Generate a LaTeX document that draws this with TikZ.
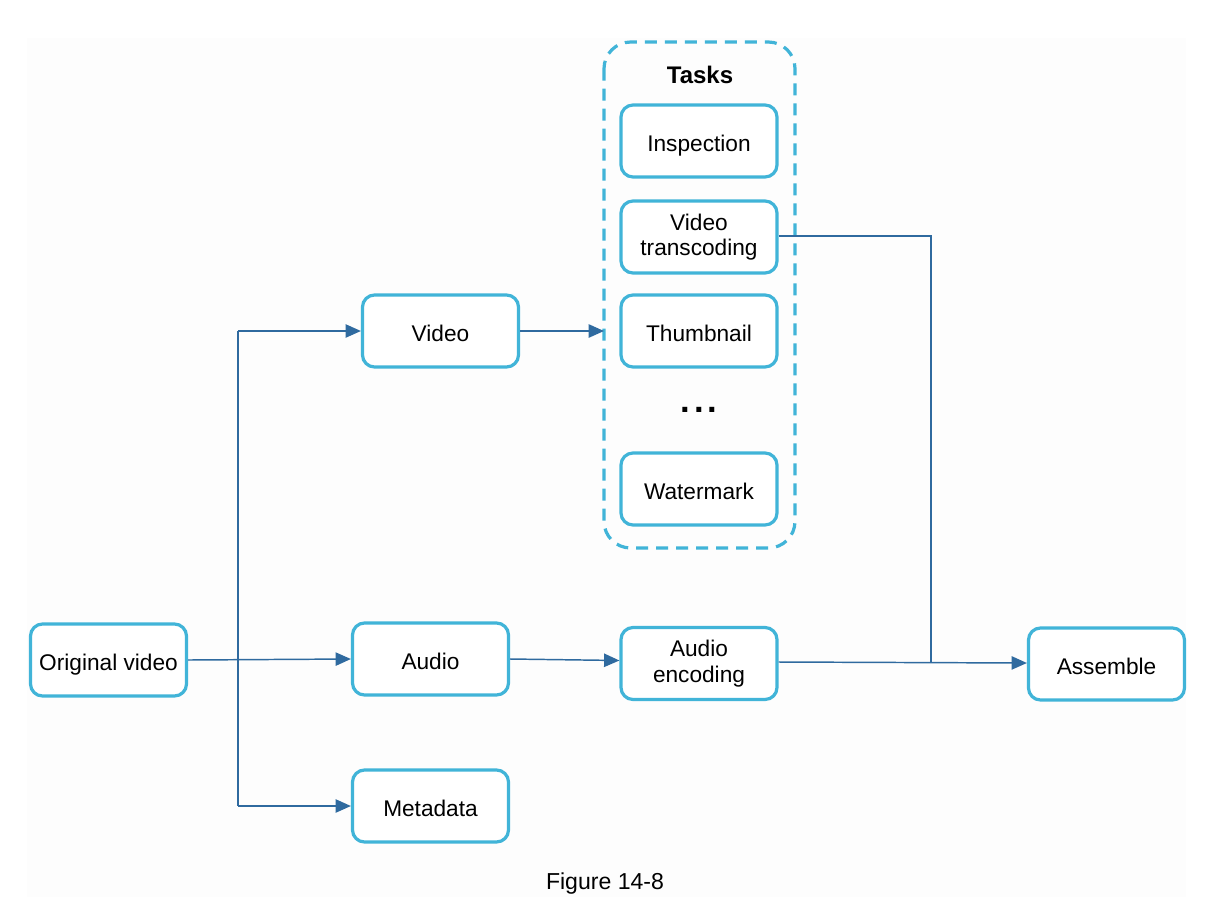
\documentclass[tikz,border=0pt]{standalone}
\usepackage{fontspec}
\setmainfont{Liberation Sans}
\usetikzlibrary{arrows.meta}
\definecolor{boxblue}{HTML}{41B4D8}
\definecolor{arrowblue}{HTML}{2F6A9F}
\definecolor{bggray}{HTML}{FDFDFD}
\tikzset{
  box/.style={draw=boxblue, line width=2.4pt, rounded corners=9pt, fill=white,
    minimum width=117pt, minimum height=54pt, align=center,
    font=\fontsize{17pt}{19pt}\selectfont, inner sep=0pt},
  onebox/.style={box, text height=15pt, text depth=0pt},
  conn/.style={draw=arrowblue, line width=1.1pt},
  arr/.style={conn, -{Triangle[length=11.5pt, width=10pt]}},
  tasksbox/.style={draw=boxblue, line width=2.4pt, dash pattern=on 9pt off 6pt, rounded corners=20pt}
}
\begin{document}
\begin{tikzpicture}[x=0.75pt, y=-0.75pt]
\useasboundingbox (0,0) rectangle (1210,918);
\fill[bggray] (27,38) rectangle (1186,897);
% tasks container
\draw[tasksbox] (604,42) rectangle (795,548);
\node[font=\bfseries\fontsize{18pt}{20pt}\selectfont] (tasks) at (700,75) {Tasks};
\node[onebox] (insp) at (699,141) {Inspection};
\node[box] (vtrans) at (699,237) {Video\\transcoding};
\node[onebox] (thumb) at (699,331) {Thumbnail};
\node[font=\bfseries\fontsize{26pt}{26pt}\selectfont] (dots) at (699,410) {.\hspace{3pt}.\hspace{3pt}.};
\node[onebox] (water) at (699,489) {Watermark};
\coordinate (tasksleft) at (604,331);
% nodes
\node[onebox] (orig) at (108.5,660) {Original video};
\node[onebox] (video) at (440.5,331) {Video};
\node[onebox] (audio) at (430.5,659) {Audio};
\node[onebox] (meta) at (430.5,806) {Metadata};
\node[box] (aenc) at (699,663.5) {Audio\\encoding};
\node[onebox] (asm) at (1106.5,664) {Assemble};
\coordinate (join) at (931,662);
% connectors
\draw[arr] (orig.east) -- (audio.west);
\draw[conn] (238,331) -- (238,806);
\draw[arr] (238,331) -- (video.west);
\draw[arr] (238,806) -- (meta.west);
\draw[arr] (video.east) -- (tasksleft);
\draw[arr] (audio.east) -- (aenc.west |- 0,660.5);
\draw[conn] (vtrans.east |- 0,236) -| (join);
\draw[arr] (aenc.east |- 0,662) -- (asm.west |- 0,663);
\node[font=\fontsize{17.3pt}{20pt}\selectfont] (cap) at (605,884) {Figure 14-8};
\end{tikzpicture}
\end{document}
